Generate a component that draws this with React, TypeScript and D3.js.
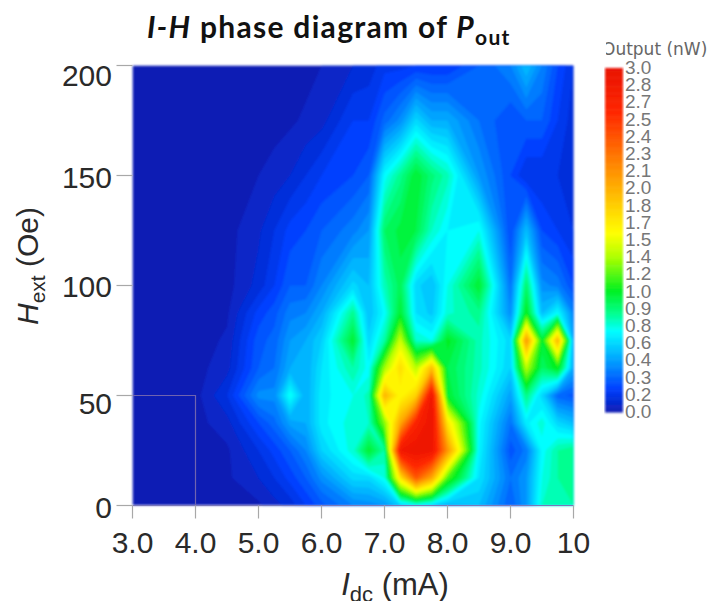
import * as d3 from "d3";

const CURRENTS = [3, 4, 4.5, 5, 5.25, 5.5, 5.75, 6, 6.5, 6.75, 7, 7.25, 7.5, 7.75, 8, 8.5, 9, 9.25, 9.5, 9.75, 10];
const FIELDS = [0, 12.5, 25, 37.5, 50, 62.5, 75, 87.5, 100, 125, 150, 175, 200];

// output power (nW), one row per field, bottom to top
const POWER = [
  [0.02, 0.02, 0.03, 0.04, 0.08, 0.12, 0.2, 0.28, 0.4, 0.42, 0.45, 0.6, 0.7, 0.62, 0.52, 0.55, 0.3, 0.45, 0.8, 0.85, 0.85],
  [0.02, 0.02, 0.04, 0.1, 0.15, 0.22, 0.3, 0.42, 0.62, 0.62, 0.75, 1.7, 2.4, 2.0, 1.2, 0.65, 0.35, 0.45, 0.75, 0.85, 0.9],
  [0.02, 0.02, 0.04, 0.15, 0.22, 0.3, 0.4, 0.6, 0.78, 1.05, 0.85, 2.85, 2.95, 2.9, 2.1, 0.7, 0.27, 0.37, 0.72, 0.85, 0.9],
  [0.02, 0.03, 0.08, 0.25, 0.33, 0.47, 0.5, 0.68, 0.78, 0.8, 1.3, 2.0, 2.7, 2.95, 1.7, 0.72, 0.35, 0.68, 0.78, 0.62, 0.55],
  [0.02, 0.03, 0.15, 0.42, 0.42, 0.75, 0.5, 0.68, 0.75, 0.82, 1.95, 1.6, 1.8, 2.9, 1.05, 0.78, 0.47, 0.9, 0.62, 0.32, 0.28],
  [0.02, 0.03, 0.08, 0.3, 0.35, 0.5, 0.5, 0.65, 0.85, 0.72, 1.35, 1.75, 1.4, 1.9, 1.0, 0.82, 0.6, 1.4, 0.95, 1.1, 0.5],
  [0.02, 0.02, 0.06, 0.28, 0.32, 0.45, 0.5, 0.6, 1.05, 0.62, 0.85, 1.45, 0.8, 0.75, 1.08, 0.82, 0.62, 2.1, 1.05, 1.95, 0.5],
  [0.02, 0.02, 0.04, 0.22, 0.28, 0.38, 0.4, 0.5, 0.88, 0.55, 0.72, 1.05, 0.65, 0.58, 0.78, 0.88, 0.42, 1.1, 0.55, 0.72, 0.4],
  [0.02, 0.02, 0.03, 0.12, 0.2, 0.3, 0.3, 0.4, 0.62, 0.55, 0.82, 0.98, 0.62, 0.55, 0.75, 1.05, 0.35, 0.95, 0.42, 0.38, 0.25],
  [0.02, 0.02, 0.03, 0.09, 0.15, 0.22, 0.25, 0.3, 0.38, 0.45, 0.95, 1.02, 1.0, 0.8, 0.7, 0.75, 0.25, 0.55, 0.25, 0.2, 0.15],
  [0.02, 0.02, 0.02, 0.05, 0.07, 0.1, 0.15, 0.2, 0.25, 0.3, 0.72, 0.88, 1.05, 0.92, 0.82, 0.45, 0.25, 0.15, 0.15, 0.15, 0.12],
  [0.02, 0.02, 0.02, 0.02, 0.03, 0.04, 0.06, 0.08, 0.2, 0.2, 0.32, 0.42, 0.62, 0.5, 0.5, 0.35, 0.25, 0.3, 0.3, 0.2, 0.12],
  [0.01, 0.01, 0.01, 0.01, 0.02, 0.02, 0.03, 0.05, 0.1, 0.12, 0.18, 0.18, 0.2, 0.2, 0.2, 0.3, 0.4, 0.55, 0.4, 0.25, 0.15],
];

const X_TICKS = [3, 4, 5, 6, 7, 8, 9, 10];
const X_TICK_LABELS = ["3.0", "4.0", "5.0", "6.0", "7.0", "8.0", "9.0", "10"];
const Y_TICKS = [0, 50, 100, 150, 200];
// the labels in the original sit a little off their ticks
const Y_LABEL_SHIFT = [1, 7, 0, 1, 9];
const LEGEND_LABELS = ["3.0", "2.8", "2.7", "2.5", "2.4", "2.3", "2.1", "2.0", "1.8", "1.7", "1.5", "1.4", "1.2", "1.0", "0.9", "0.8", "0.6", "0.4", "0.3", "0.2", "0.0"];
const COLOR_STOPS = [0, 0.2, 0.4, 0.7, 0.85, 1.05, 1.35, 1.55, 2.1, 2.6, 3];
const COLOR_VALUES = ["#0a1cb4", "#0040ff", "#0090ff", "#00ffff", "#00ff90", "#00f020", "#b0ff00", "#ffff00", "#ff9000", "#ff2800", "#e81000"];

const PLOT = { left: 132.5, right: 573.5, top: 65.5, bottom: 505.5 };
const LEGEND = { x: 605, width: 18, top: 68, bottom: 412 };

const x = d3.scaleLinear().domain([3, 10]).range([PLOT.left, PLOT.right]);
const y = d3.scaleLinear().domain([0, 200]).range([PLOT.bottom, PLOT.top]);
const color = d3.scaleLinear<string>().domain(COLOR_STOPS).range(COLOR_VALUES);

// contour grid units -> data units, the grid is not evenly spaced
const gridX = d3.scaleLinear().domain(CURRENTS.map((_, i) => i + 0.5)).range(CURRENTS).clamp(true);
const gridY = d3.scaleLinear().domain(FIELDS.map((_, i) => i + 0.5)).range(FIELDS).clamp(true);

const levels = d3.range(0.05, 3, 0.05);
const bands = d3
  .contours()
  .size([CURRENTS.length, FIELDS.length])
  .thresholds(levels)(POWER.flat());

const project = d3.geoPath(
  d3.geoTransform({
    point(px, py) {
      this.stream.point(x(gridX(px)), y(gridY(py)));
    },
  })
);

const legendY = d3.scaleLinear().domain([0, 3]).range([LEGEND.bottom, LEGEND.top]);
const legendLabelY = d3.scalePoint<string>().domain(LEGEND_LABELS.map((_, i) => String(i))).range([LEGEND.top, LEGEND.bottom]);
const legendSteps = d3.range(0, 3, 0.02);

const AXIS_FONT = "'Liberation Sans', Arial, sans-serif";
const TITLE_FONT = "Lato, 'Open Sans', sans-serif";

export default function App() {
  return (
    <svg width={718} height={601} style={{ position: "absolute", left: 0, top: 0, background: "#fff" }}>
      <defs>
        <filter id="soft" x="-2%" y="-2%" width="104%" height="104%">
          <feGaussianBlur stdDeviation="0.9" />
        </filter>
        <clipPath id="plotClip">
          <rect x={PLOT.left} y={PLOT.top} width={PLOT.right - PLOT.left} height={PLOT.bottom - PLOT.top} />
        </clipPath>
        <clipPath id="legendTitleClip">
          <rect x={606} y={40} width={112} height={24} />
        </clipPath>
      </defs>

      <g filter="url(#soft)">
        <g clipPath="url(#plotClip)">
          <rect x={PLOT.left} y={PLOT.top} width={PLOT.right - PLOT.left} height={PLOT.bottom - PLOT.top} fill={color(0)} />
          {bands.map((b, i) => (
            <path key={i} d={project(b) ?? ""} fill={color(b.value)} />
          ))}
        </g>
      </g>

      {/* leftover box in the original figure */}
      <path
        d={`M${x(3)},${y(50)}H${x(4)}V${y(0)}`}
        fill="none"
        stroke="#6f63b0"
        strokeWidth={1.2}
      />
      <line x1={PLOT.left} x2={PLOT.right} y1={PLOT.bottom} y2={PLOT.bottom} stroke="#7a78b8" strokeWidth={1} />

      {Y_TICKS.map((t, i) => (
        <g key={t}>
          <line x1={PLOT.left - 16} x2={PLOT.left} y1={y(t)} y2={y(t)} stroke="#a8a8a8" strokeWidth={1.2} />
          <text x={112} y={y(t) + 11 + Y_LABEL_SHIFT[i]} textAnchor="end" fontFamily={AXIS_FONT} fontSize={30} fill="#2a2a2a">
            {t}
          </text>
        </g>
      ))}
      {X_TICKS.map((t, i) => (
        <g key={t}>
          <line x1={x(t)} x2={x(t)} y1={PLOT.bottom} y2={PLOT.bottom + 13} stroke="#a8a8a8" strokeWidth={1.2} />
          <text x={x(t)} y={553} textAnchor="middle" fontFamily={AXIS_FONT} fontSize={30} fill="#2a2a2a">
            {X_TICK_LABELS[i]}
          </text>
        </g>
      ))}

      <text x={395} y={595} textAnchor="middle" fontFamily={AXIS_FONT} fontSize={31} fill="#2a2a2a">
        <tspan fontStyle="italic">I</tspan>
        <tspan fontSize={22} dy={7}>dc</tspan>
        <tspan dy={-7}> (mA)</tspan>
      </text>
      <text
        transform="translate(38,266) rotate(-90)"
        textAnchor="middle"
        fontFamily={AXIS_FONT}
        fontSize={30}
        fill="#2a2a2a"
      >
        <tspan fontStyle="italic">H</tspan>
        <tspan fontSize={21} dy={7}>ext</tspan>
        <tspan dy={-7}> (Oe)</tspan>
      </text>

      <text x={147} y={38} fontFamily={TITLE_FONT} fontWeight={700} fontSize={30} letterSpacing={1.3} fill="#111">
        <tspan fontStyle="italic">I-H</tspan>
        <tspan> phase diagram of </tspan>
        <tspan fontStyle="italic">P</tspan>
        <tspan fontSize={21} dy={7}>out</tspan>
      </text>

      <g filter="url(#soft)">
        {legendSteps.map((v) => (
          <rect
            key={v}
            x={LEGEND.x}
            y={legendY(v + 0.02)}
            width={LEGEND.width}
            height={legendY(v) - legendY(v + 0.02) + 0.5}
            fill={color(v)}
          />
        ))}
      </g>
      <g clipPath="url(#legendTitleClip)">
        <text x={602} y={55} fontFamily="'DejaVu Sans', sans-serif" fontSize={17} fill="#666">
          Output (nW)
        </text>
      </g>
      {LEGEND_LABELS.map((label, i) => (
        <text
          key={i}
          x={LEGEND.x + 20}
          y={(legendLabelY(String(i)) ?? 0) + 6}
          fontFamily={AXIS_FONT}
          fontSize={19}
          fill="#777"
        >
          {label}
        </text>
      ))}
    </svg>
  );
}
